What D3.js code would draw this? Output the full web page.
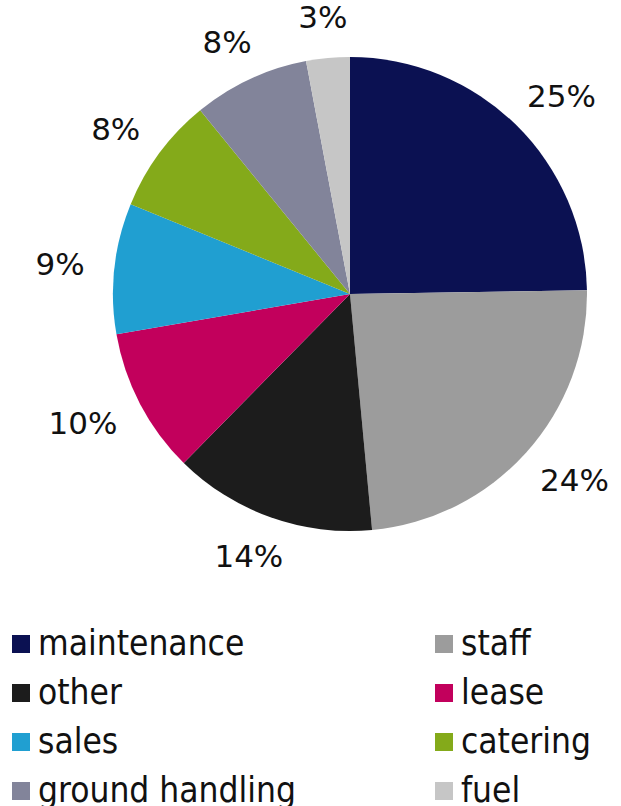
<!DOCTYPE html>
<html>
<head>
<meta charset="utf-8">
<script src="https://cdn.jsdelivr.net/npm/d3@7/dist/d3.min.js"></script>
<style>
  html, body { margin: 0; padding: 0; background: #fff; overflow: hidden; }
  svg { display: block; }
</style>
</head>
<body>
<svg id="chart" width="621" height="806"></svg>
<script>
// Cost breakdown, share of total (%)
const categories = ["maintenance", "staff", "other", "lease", "sales", "catering", "ground handling", "fuel"];
const shares = [25, 24, 14, 10, 9, 8, 8, 3];
const colors = ["#0b1152", "#9c9c9c", "#1c1c1c", "#c2005c", "#209fd1", "#84aa1a", "#82849a", "#c6c6c6"];

const W = 621, H = 806;
const cx = 350, cy = 294, radius = 237;

const svg = d3.select("#chart");

const data = categories.map((name, i) => ({ name, value: shares[i], color: colors[i] }));

const pie = d3.pie().sort(null).value(d => d.value);
const arc = d3.arc().innerRadius(0).outerRadius(radius);
const arcs = pie(data);

const g = svg.append("g").attr("transform", `translate(${cx},${cy})`);

g.selectAll("path.slice")
  .data(arcs)
  .join("path")
  .attr("class", "slice")
  .attr("d", arc)
  .attr("fill", d => d.data.color);

// Percentage labels outside each slice: the text box is pushed out
// along the slice's mid-angle so that it clears the rim.
const labelR = 267;
const halfH = 11;
const fmt = v => `${v}%`;
const labels = g.selectAll("text.pct")
  .data(arcs)
  .join("text")
  .attr("class", "pct")
  .attr("font-family", "'DejaVu Sans', Verdana, sans-serif")
  .attr("font-size", 31)
  .attr("fill", "#111")
  .attr("text-anchor", "middle")
  .attr("dy", "0.36em")
  .text(d => fmt(d.data.value));

labels.each(function(d) {
  const a = (d.startAngle + d.endAngle) / 2;
  const w = this.getComputedTextLength();
  const x = Math.sin(a) * (labelR + w / 2);
  const y = -Math.cos(a) * (labelR + halfH);
  d3.select(this).attr("x", x).attr("y", y);
});

// Legend: two columns, four rows
const legendX = [12, 435];
const legendTop = 635, rowGap = 49, sw = 18;
const legend = svg.append("g");
data.forEach((d, i) => {
  const col = i % 2, row = Math.floor(i / 2);
  const x = legendX[col], y = legendTop + row * rowGap;
  legend.append("rect")
    .attr("x", x).attr("y", y)
    .attr("width", sw).attr("height", sw)
    .attr("fill", d.color);
  legend.append("text")
    .attr("x", x + 26).attr("y", y + 20)
    .attr("font-family", "'DejaVu Sans Condensed', 'DejaVu Sans', sans-serif")
    .attr("font-stretch", "condensed")
    .attr("font-size", 35)
    .attr("fill", "#111")
    .text(d.name);
});
</script>
</body>
</html>
